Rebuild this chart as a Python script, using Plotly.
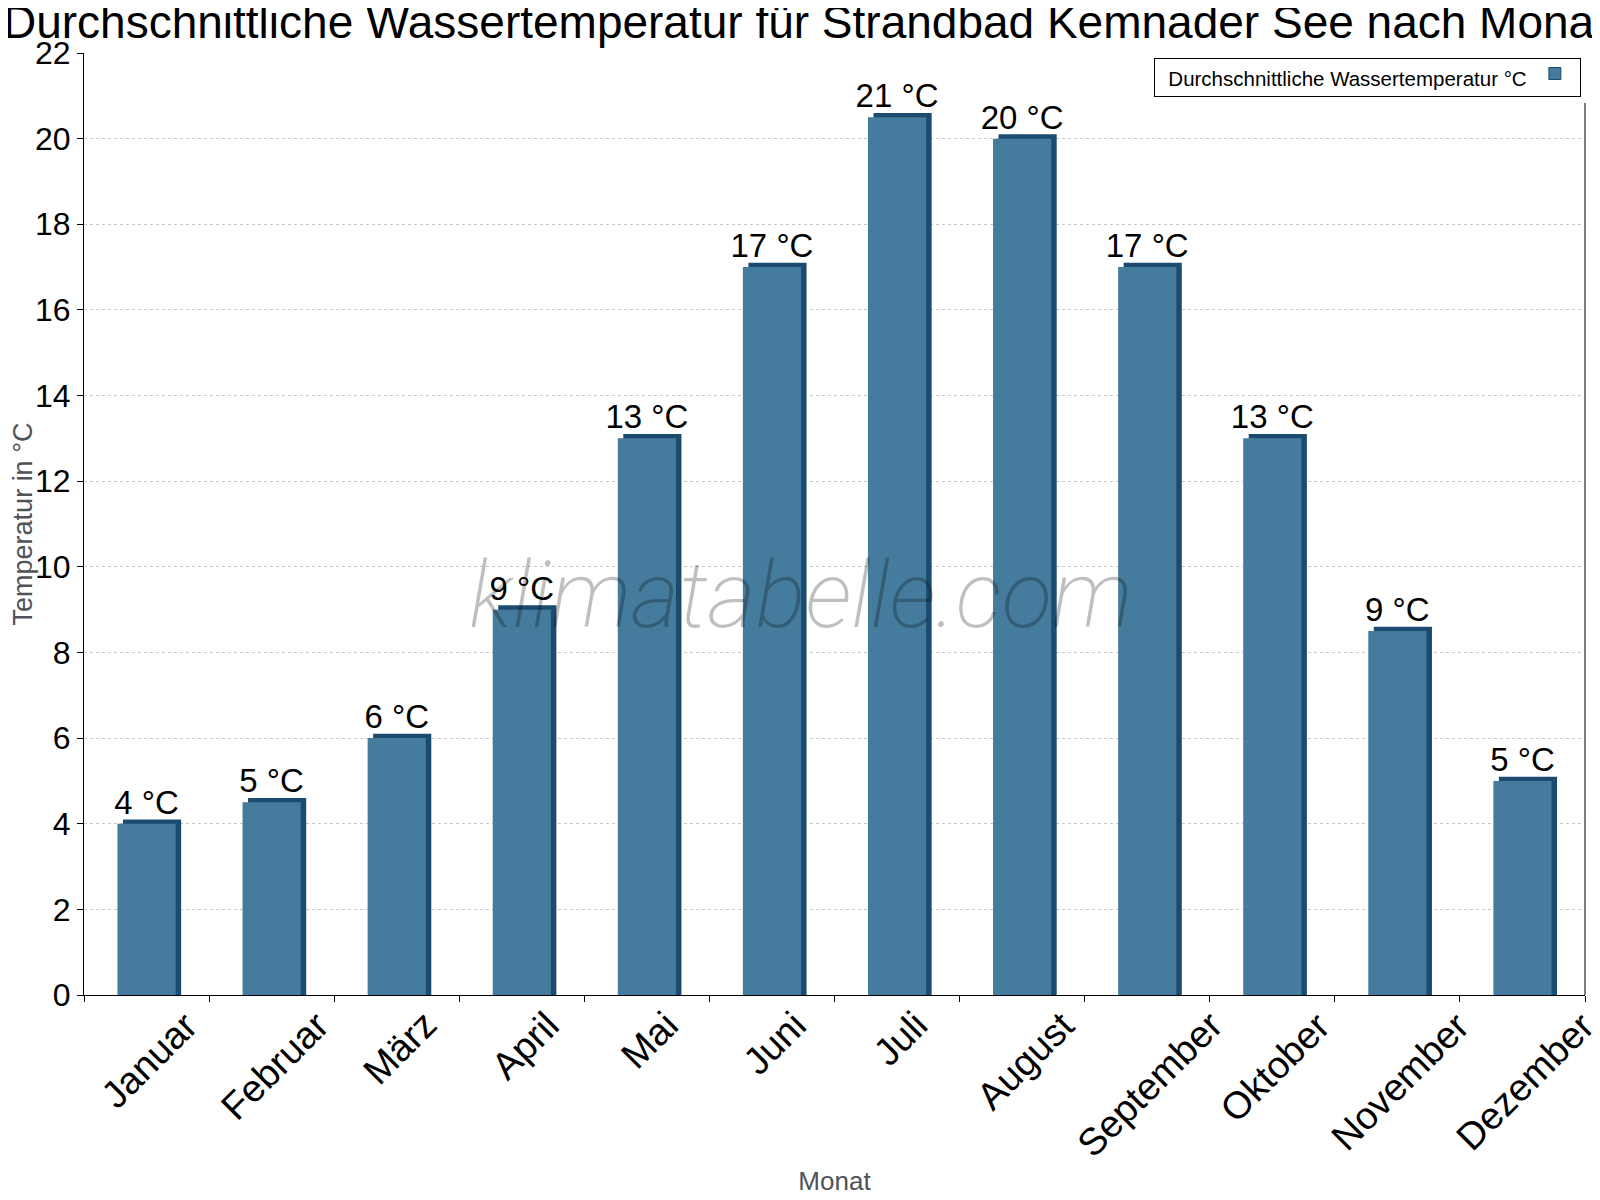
import plotly.graph_objects as go

months = ["Januar", "Februar", "März", "April", "Mai", "Juni", "Juli",
          "August", "September", "Oktober", "November", "Dezember"]
water_temp = [4, 4.5, 6, 9, 13, 17, 20.5, 20, 17, 13, 8.5, 5]
value_labels = ["4 °C", "5 °C", "6 °C", "9 °C", "13 °C", "17 °C", "21 °C",
                "20 °C", "17 °C", "13 °C", "9 °C", "5 °C"]
y_ticks = list(range(0, 23, 2))

FRONT = "#457b9d"
DARK = "#1b4c6f"
FONT = "Liberation Sans, Arial, sans-serif"
BAR_W = 0.465
DEPTH_X = 0.044
DEPTH_Y = 0.1

fig = go.Figure()

# dark "3D" back face (top + right side)
fig.add_trace(go.Bar(
    x=months, y=[v + DEPTH_Y for v in water_temp],
    width=BAR_W, offset=-BAR_W / 2 + DEPTH_X,
    marker=dict(color=DARK, line=dict(width=0)),
    showlegend=False, hoverinfo="skip",
))
# front face (carries the value labels)
fig.add_trace(go.Bar(
    x=months, y=water_temp,
    width=BAR_W, offset=-BAR_W / 2,
    marker=dict(color=FRONT, line=dict(width=0)),
    text=value_labels, textposition="outside", constraintext="none",
    textfont=dict(family=FONT, size=33, color="black"),
    cliponaxis=False, showlegend=False,
))
# legend entry
fig.add_trace(go.Bar(
    x=[months[0]], y=[None], name="",
    marker=dict(color=FRONT, line=dict(color=DARK, width=1)),
    showlegend=True,
))

# category labels, rotated and centred under each category
for m in months:
    fig.add_annotation(
        text=m, x=m, xref="x", y=0, yref="paper",
        xanchor="center", yanchor="top", xshift=3, yshift=-6,
        textangle=-45, showarrow=False,
        font=dict(family=FONT, size=38, color="black"),
    )

fig.add_annotation(
    text="klimatabelle.com", xref="paper", yref="paper",
    x=0.4775, y=0.4245, showarrow=False,
    font=dict(family="Roboto", size=93, color="rgba(0,0,0,0.25)",
              style="italic", weight=200),
)

fig.add_shape(type="line", xref="paper", yref="paper",
              x0=1, x1=1, y0=0, y1=0.947,
              line=dict(color="black", width=1))

fig.update_layout(
    width=1592, height=1192,
    margin=dict(l=76, r=15, t=45, b=205),
    paper_bgcolor="white", plot_bgcolor="white",
    barmode="overlay",
    title=dict(
        text="Durchschnittliche Wassertemperatur für Strandbad Kemnader See nach Monat",
        x=0.5006, xanchor="center", xref="container", y=1 - 14 / 1192, yanchor="middle",
        font=dict(family=FONT, size=46, color="black"),
    ),
    legend=dict(
        orientation="h", x=0.9973, xanchor="right",
        y=0.9947, yanchor="top",
        bgcolor="white", bordercolor="black", borderwidth=1,
        font=dict(family=FONT, size=12, color="black"),
        title=dict(text="\u00a0\u00a0Durchschnittliche Wassertemperatur °C", side="left",
                   font=dict(family=FONT, size=20.5, color="black")),
    ),
    xaxis=dict(
        title=dict(text="Monat", standoff=176,
                   font=dict(family=FONT, size=26, color="#4d5358")),
        showticklabels=False, automargin=False,
        tickson="boundaries", ticks="outside", ticklen=6,
        tickcolor="black", showline=True, linecolor="black", linewidth=1,
        range=[-0.5, 11.5], showgrid=False,
    ),
    yaxis=dict(
        title=dict(text="Temperatur in °C", font=dict(family=FONT, size=27, color="#4d5358")),
        tickfont=dict(family=FONT, size=32, color="black"),
        range=[0, 22], tickvals=y_ticks, ticks="outside", ticklen=6,
        automargin=False,
        tickcolor="black", showline=True, linecolor="black", linewidth=1,
        showgrid=True, gridcolor="#c8c8c8", griddash="dot", gridwidth=1,
        zeroline=False,
    ),
)

fig.write_html("out.html")
